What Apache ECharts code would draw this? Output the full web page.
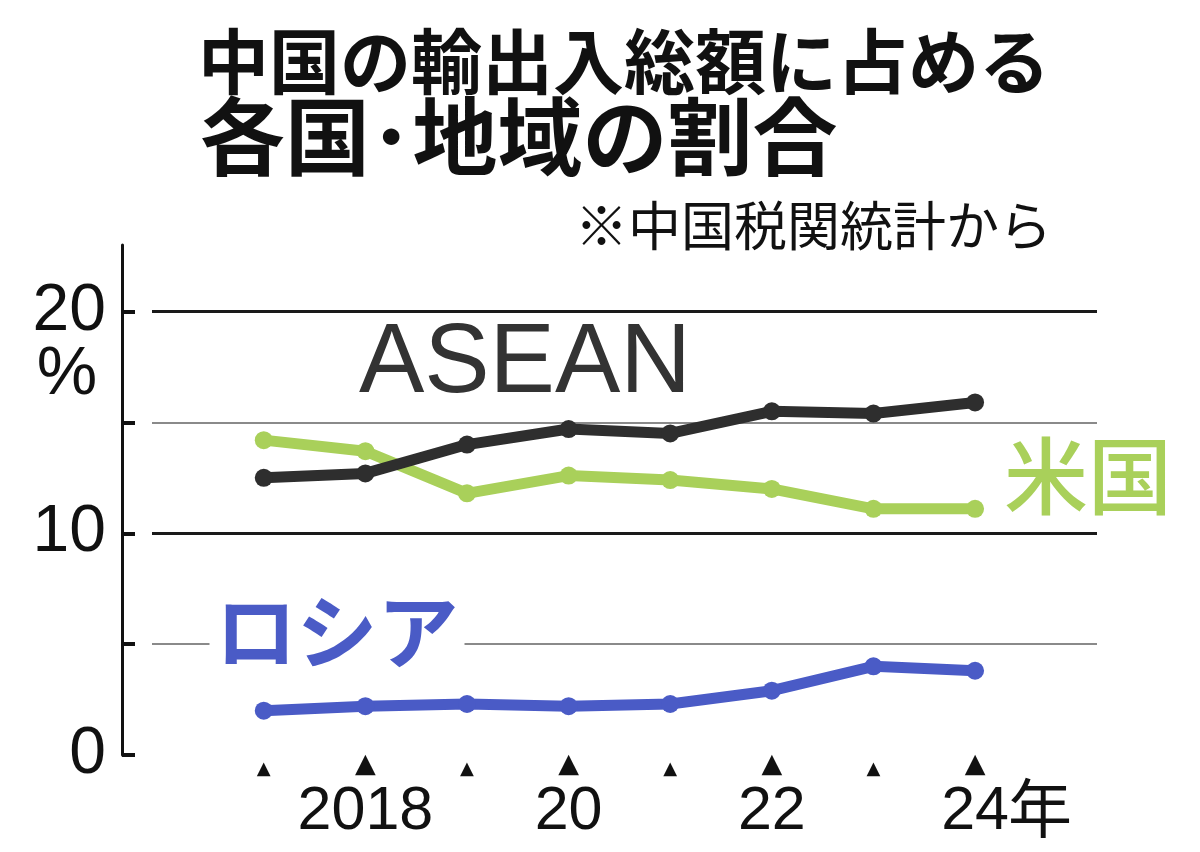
<!DOCTYPE html>
<html>
<head>
<meta charset="utf-8">
<style>html,body{margin:0;padding:0;background:#fff}#c{width:1200px;height:852px}</style>
<script src="https://cdn.jsdelivr.net/npm/echarts@6/dist/echarts.min.js"></script>
</head>
<body>
<div id="c"></div>
<script>
const years = [2017, 2018, 2019, 2020, 2021, 2022, 2023, 2024];
const asean = [12.5, 12.7, 14.0, 14.7, 14.5, 15.5, 15.4, 15.9];
const usa = [14.2, 13.7, 11.8, 12.6, 12.4, 12.0, 11.1, 11.1];
const russia = [2.0, 2.2, 2.3, 2.2, 2.3, 2.9, 4.0, 3.8];
const yearLabels = {2018: '2018', 2020: '20', 2022: '22', 2024: '24'};
const yLabelValues = [0, 10, 20];
const gridValues = [5, 10, 15, 20];

const XMIN = 2015.9, XMAX = 2025.2;
const CN = "'Noto Sans CJK JP', 'Noto Sans CJK SC', sans-serif";
const LAT = "'Liberation Sans', Arial, sans-serif";

const chart = echarts.init(document.getElementById('c'));
const pairs = arr => years.map((y, i) => [y, arr[i]]);

const gridLines = gridValues.map(v => {
  const major = v % 10 === 0;
  return [
    {coord: [XMIN, v], lineStyle: {color: major ? '#1a1a1a' : '#8a8a8a', width: major ? 3 : 2, type: 'solid'}},
    {coord: [XMAX, v]}
  ];
});

function lineSeries(name, data, color, extra) {
  return Object.assign({
    name, type: 'line', data: pairs(data),
    xAxisIndex: 0, yAxisIndex: 0,
    symbol: 'circle', symbolSize: 18,
    itemStyle: {color},
    lineStyle: {color, width: 11},
    z: 3, animation: false
  }, extra || {});
}

chart.setOption({
  animation: false,
  backgroundColor: '#fff',
  grid: {left: 152, right: 103, top: 245, bottom: 97},
  xAxis: [{
    type: 'value', min: XMIN, max: XMAX,
    axisLine: {show: false}, axisTick: {show: false}, splitLine: {show: false},
    axisLabel: {
      customValues: years, margin: 3,
      formatter: v => (v % 2 === 0 ? '{b|▲}' : '{s|▲}'),
      rich: {
        b: {fontSize: 27, fontFamily: 'DejaVu Sans', color: '#111', verticalAlign: 'bottom', lineHeight: 20},
        s: {fontSize: 18, fontFamily: 'DejaVu Sans', color: '#111', verticalAlign: 'bottom', lineHeight: 20}
      }
    }
  }, {
    type: 'value', min: XMIN, max: XMAX, position: 'bottom',
    axisLine: {show: false}, axisTick: {show: false}, splitLine: {show: false},
    axisLabel: {
      customValues: [2018, 2020, 2022, 2024], margin: 27,
      formatter: v => yearLabels[v] || '',
      fontFamily: LAT, fontSize: 61, color: '#111'
    }
  }],
  yAxis: {
    type: 'value', min: 0, max: 23, offset: 30,
    axisLine: {show: true, lineStyle: {color: '#111', width: 3}},
    axisTick: {show: true, inside: true, length: 13, lineStyle: {color: '#111', width: 4}, customValues: [0, 5, 10, 15, 20]},
    splitLine: {show: false},
    axisLabel: {
      customValues: yLabelValues, margin: 16,
      fontFamily: LAT, fontSize: 66, color: '#111'
    }
  },
  series: [
    {
      type: 'line', name: 'grid', data: [], xAxisIndex: 0, yAxisIndex: 0, z: 1,
      markLine: {silent: true, symbol: ['none', 'none'], label: {show: false}, z: 1, animation: false, data: gridLines}
    },
    lineSeries('ASEAN', asean, '#2e2e2e', {z: 4}),
    lineSeries('米国', usa, '#a9d05a', {z: 3}),
    lineSeries('ロシア', russia, '#4a5bc6', {z: 3})
  ],
  graphic: [
    {type: 'text', left: 198, top: 26, z: 100, style: {text: '中国の輸出入総額に占める', fill: '#111', font: 'bold 71px ' + CN}},
    {type: 'text', left: 200, top: 94, z: 100, style: {text: '各国･地域の割合', fill: '#111', font: 'bold 85px ' + CN}},
    {type: 'text', right: 148, top: 199, z: 100, style: {text: '※中国税関統計から', fill: '#111', font: 'normal 53px ' + CN}},
    {type: 'text', x: 67, y: 375, z: 100, style: {text: '%', fill: '#111', font: 'normal 68px ' + LAT, align: 'center', verticalAlign: 'middle'}},
    {type: 'text', x: 1008, y: 808, z: 100, style: {text: '年', fill: '#111', font: 'normal 64px ' + CN, align: 'left', verticalAlign: 'middle'}},
    {type: 'text', x: 525, y: 365, z: 100, style: {text: 'ASEAN', fill: '#333', font: 'normal 98px ' + LAT, align: 'center', verticalAlign: 'middle'}},
    {type: 'text', x: 1088, y: 476, z: 100, style: {text: '米国', fill: '#a9d05a', font: '500 84px ' + CN, align: 'center', verticalAlign: 'middle'}},
    {type: 'text', x: 337, y: 631, z: 100, style: {text: 'ロシア', fill: '#4a5bc6', font: 'bold 81px ' + CN, align: 'center', verticalAlign: 'middle', backgroundColor: '#fff', padding: [0, 6]}}
  ]
});
</script>
</body>
</html>
